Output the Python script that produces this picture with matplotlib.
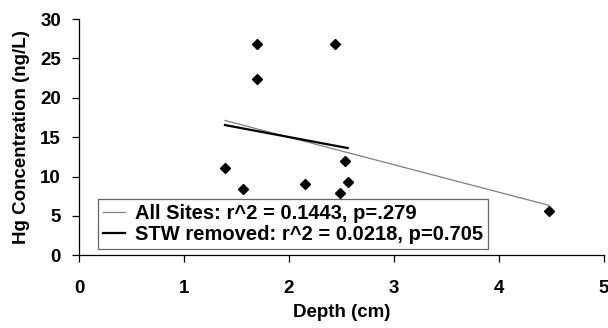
import numpy as np
import matplotlib
matplotlib.use("Agg")
import matplotlib.pyplot as plt

plt.rcParams['font.family'] = ['Liberation Sans', 'DejaVu Sans']

# Data
depth = [1.39, 1.565, 1.698, 1.698, 2.152, 2.438, 2.486, 2.533, 2.559, 4.476]
hg    = [11.04, 8.45, 26.78, 22.4, 9.09, 26.8, 7.95, 12.0, 9.3, 5.62]
# STW site (deepest point) is removed for the second fit
stw_removed_mask = [True] * 9 + [False]

label_all = "All Sites: r^2 = 0.1443, p=.279"
label_stw = "STW removed: r^2 = 0.0218, p=0.705"

x = np.array(depth)
y = np.array(hg)
m = np.array(stw_removed_mask)

fig = plt.figure(figsize=(6.08, 3.28), dpi=100)
ax = fig.add_axes([79/608, 1-255.3/328, (604-79)/608, (255.3-19)/328])

ax.plot(x, y, ls='none', marker='D', ms=4.7, color='black', zorder=3)

# trendlines
c_all = np.polyfit(x, y, 1)
xa = np.array([x.min(), x.max()])
ax.plot(xa, np.polyval(c_all, xa), color='#808080', lw=0.9, label=label_all)
c_stw = np.polyfit(x[m], y[m], 1)
xs = np.array([x[m].min(), x[m].max()])
ax.plot(xs, np.polyval(c_stw, xs), color='black', lw=1.6, label=label_stw)

ax.set_xlim(0, 5)
ax.set_ylim(0, 30)
ax.set_xticks([0, 1, 2, 3, 4, 5])
ax.set_yticks([0, 5, 10, 15, 20, 25, 30])
for s in ['top', 'right']:
    ax.spines[s].set_visible(False)
for s in ['left', 'bottom']:
    ax.spines[s].set_linewidth(0.9)
ax.tick_params(direction='out', length=5, width=0.9, labelsize=13.5)
for lab in ax.get_xticklabels() + ax.get_yticklabels():
    lab.set_fontweight('bold')
ax.tick_params(axis='x', pad=13)
ax.tick_params(axis='y', pad=8)

ax.set_xlabel("Depth (cm)", fontsize=13.5, fontweight='bold', labelpad=5)
ax.set_ylabel("Hg Concentration (ng/L)", fontsize=13.5, fontweight='bold', labelpad=7)

leg = ax.legend(loc='lower left', bbox_to_anchor=(0.0356, 0.025),
                prop={'weight': 'bold', 'size': 14.5}, frameon=True, fancybox=False,
                edgecolor='#404040', handlelength=1.1, handletextpad=0.5,
                borderpad=0.25, labelspacing=0.1, borderaxespad=0)
leg.get_frame().set_linewidth(0.9)

fig.savefig("out.png", dpi=100)
